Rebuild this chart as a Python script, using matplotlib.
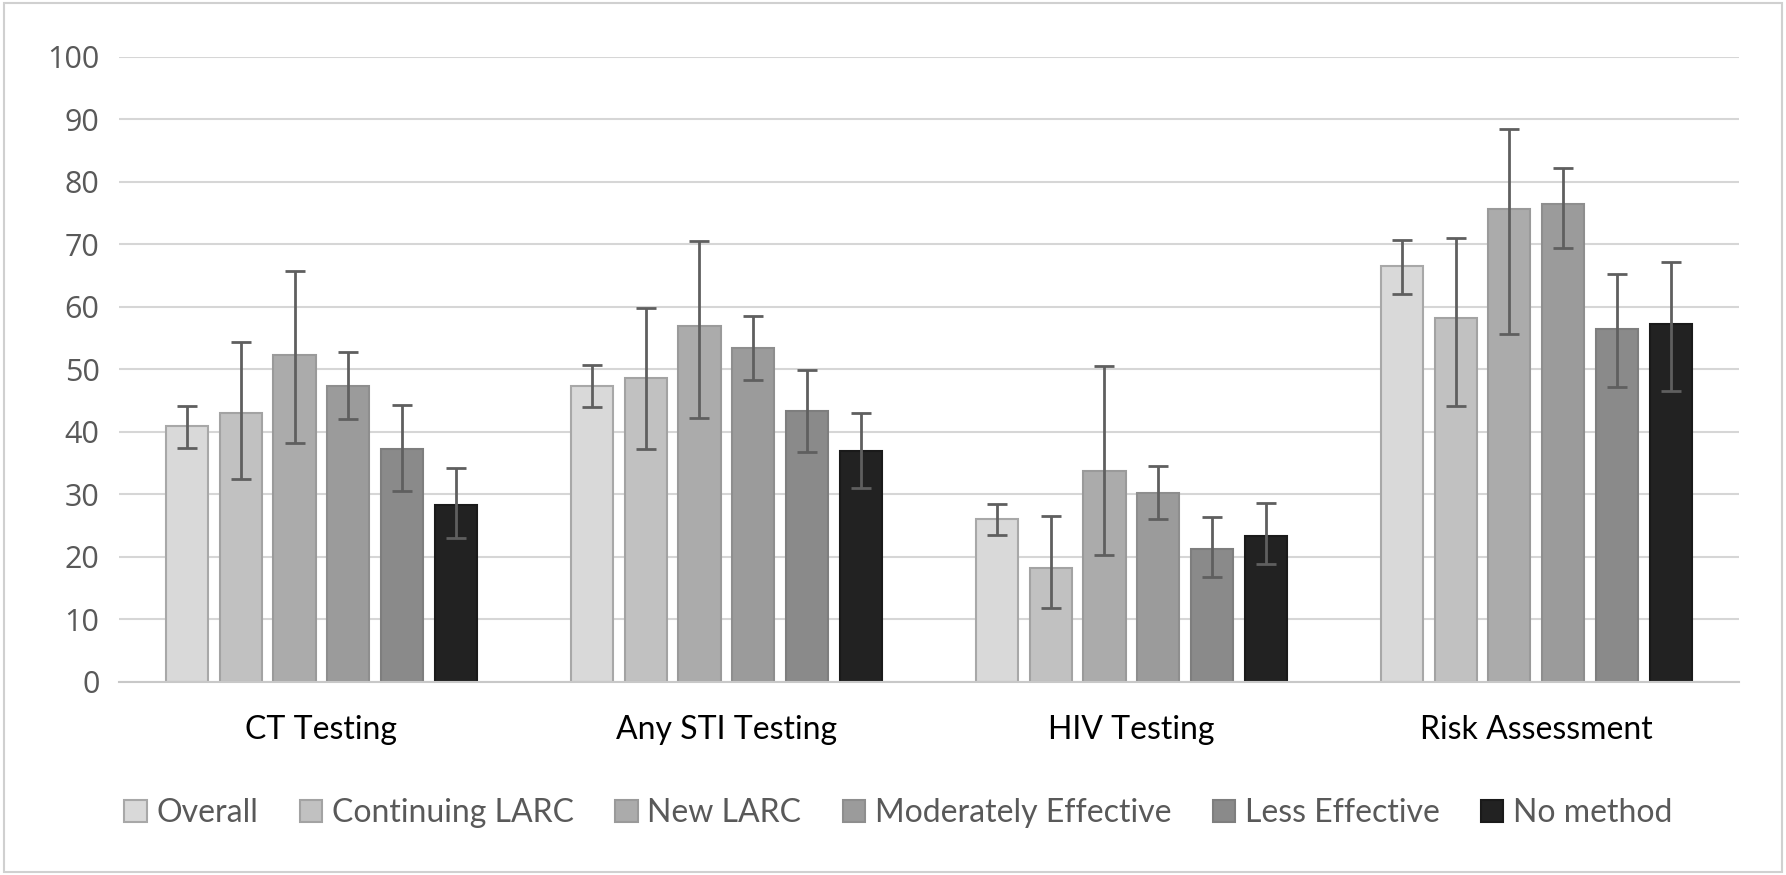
import matplotlib
matplotlib.use("Agg")
import numpy as np
import matplotlib.pyplot as plt
from matplotlib.patches import Rectangle

CATEGORIES = ["CT Testing", "Any STI Testing", "HIV Testing", "Risk Assessment"]
SERIES = ["Overall", "Continuing LARC", "New LARC", "Moderately Effective",
          "Less Effective", "No method"]

# mean values, one list per series (across categories)
overall = [41.0, 47.4, 26.0, 66.6]
continuing_larc = [43.1, 48.7, 18.2, 58.2]
new_larc = [52.3, 57.0, 33.8, 75.7]
moderately = [47.3, 53.5, 30.2, 76.4]
less_eff = [37.2, 43.3, 21.3, 56.5]
no_method = [28.3, 37.0, 23.3, 57.2]

# confidence interval bounds
overall_lo = [37.5, 44.0, 23.5, 62.0]
overall_hi = [44.1, 50.7, 28.4, 70.7]
continuing_lo = [32.5, 37.3, 11.9, 44.2]
continuing_hi = [54.4, 59.9, 26.6, 71.0]
new_lo = [38.3, 42.2, 20.3, 55.6]
new_hi = [65.7, 70.5, 50.5, 88.4]
moderately_lo = [42.0, 48.3, 26.0, 69.4]
moderately_hi = [52.8, 58.5, 34.6, 82.2]
less_lo = [30.5, 36.8, 16.8, 47.2]
less_hi = [44.3, 49.9, 26.4, 65.3]
no_lo = [23.0, 31.0, 18.8, 46.6]
no_hi = [34.2, 43.1, 28.6, 67.2]

VALUES = [overall, continuing_larc, new_larc, moderately, less_eff, no_method]
LOWS = [overall_lo, continuing_lo, new_lo, moderately_lo, less_lo, no_lo]
HIGHS = [overall_hi, continuing_hi, new_hi, moderately_hi, less_hi, no_hi]

COLORS = ["#d9d9d9", "#c1c1c1", "#ababab", "#9b9b9b", "#8a8a8a", "#222222"]
EDGES = ["#a8a8a8", "#a3a3a3", "#9a9a9a", "#8e8e8e", "#7e7e7e", "#1a1a1a"]

fig = plt.figure(figsize=(17.86, 8.75), dpi=100)
ax = fig.add_axes([0.0666, 0.2206, 0.907, 0.7143])

x = np.arange(len(CATEGORIES))
step = 0.133
width = 0.104
for i, (vals, lo, hi) in enumerate(zip(VALUES, LOWS, HIGHS)):
    pos = x + (i - 2.5) * step
    vals = np.array(vals)
    yerr = [vals - np.array(lo), np.array(hi) - vals]
    ax.bar(pos, vals, width, color=COLORS[i], edgecolor=EDGES[i], linewidth=1.5,
           label=SERIES[i], zorder=2)
    ax.errorbar(pos, vals, yerr=yerr, fmt="none", ecolor="#5f5f5f",
                elinewidth=2, capsize=7, capthick=2, zorder=3)

ax.set_xlim(-0.5, len(CATEGORIES) - 0.5)
ax.set_ylim(0, 100)
ax.set_yticks(range(0, 101, 10))
ax.yaxis.grid(True, color="#d6d6d6", linewidth=1.5, zorder=0)
ax.set_axisbelow(True)
for side in ["top", "right", "left"]:
    ax.spines[side].set_visible(False)
ax.spines["bottom"].set_color("#c8c8c8")
ax.spines["bottom"].set_linewidth(1.5)
ax.tick_params(axis="both", length=0)
ax.tick_params(axis="y", pad=14)
ax.tick_params(axis="x", pad=24)

ax.set_xticks(x)
ax.set_xticklabels(CATEGORIES, fontsize=23, color="black", family="Lato")
for lbl in ax.get_yticklabels():
    lbl.set_fontsize(22)
    lbl.set_color("#595959")
    lbl.set_family("Open Sans")

leg = fig.legend(loc="center", bbox_to_anchor=(0.503, 0.071), ncol=6, frameon=False,
                 prop={"family": "Lato", "size": 23}, handlelength=0.7,
                 handleheight=0.7, handletextpad=0.3, columnspacing=1.3,
                 labelcolor="#595959")

fig.patches.append(Rectangle((0.002, 0.003), 0.996, 0.994, transform=fig.transFigure,
                             fill=False, edgecolor="#d0d0d0", linewidth=1.5))

fig.savefig("out.png", dpi=100, facecolor="white")
